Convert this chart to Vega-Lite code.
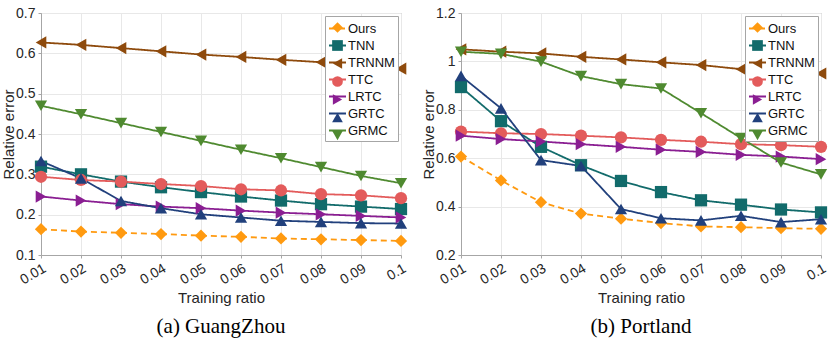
{
  "$schema": "https://vega.github.io/schema/vega-lite/v6.json",
  "padding": {"left": 0, "top": 5, "right": 0, "bottom": 0},
  "background": "white",
  "spacing": 60,
  "bounds": "flush",
  "config": {
    "font": "Liberation Sans",
    "view": {"stroke": "#a6a6a6", "strokeWidth": 1},
    "axis": {
      "labelFont": "Liberation Sans",
      "labelFontSize": 14,
      "labelColor": "#262626",
      "titleFont": "Liberation Sans",
      "titleFontSize": 15,
      "titleFontWeight": "normal",
      "titleColor": "#262626",
      "gridColor": "#e8e8e8",
      "domainColor": "#a6a6a6",
      "tickColor": "#a6a6a6",
      "tickSize": 3,
      "labelPadding": 3
    },
    "legend": {
      "labelFont": "Liberation Sans",
      "labelFontSize": 13,
      "labelColor": "#111111",
      "labelOffset": 2,
      "title": null,
      "symbolBaseFillColor": {"expr": "{'Ours':'#ff9a10','TNN':'#126b6b','TRNNM':'#8e4a0c','TTC':'#e35b5b','LRTC':'#8a1e92','GRTC':'#21407c','GRMC':'#4f8a30'}[datum.value]"}
    },
    "title": {"font": "Liberation Serif", "fontSize": 21, "fontWeight": "normal", "color": "#000000"}
  },
  "datasets": {
    "gz": [
      {"method": "Ours", "ratio": 0.01, "value": 0.164}, {"method": "Ours", "ratio": 0.02, "value": 0.158}, {"method": "Ours", "ratio": 0.03, "value": 0.155}, {"method": "Ours", "ratio": 0.04, "value": 0.152}, {"method": "Ours", "ratio": 0.05, "value": 0.148}, {"method": "Ours", "ratio": 0.06, "value": 0.145}, {"method": "Ours", "ratio": 0.07, "value": 0.141}, {"method": "Ours", "ratio": 0.08, "value": 0.139}, {"method": "Ours", "ratio": 0.09, "value": 0.137}, {"method": "Ours", "ratio": 0.1, "value": 0.135},
      {"method": "TNN", "ratio": 0.01, "value": 0.319}, {"method": "TNN", "ratio": 0.02, "value": 0.300}, {"method": "TNN", "ratio": 0.03, "value": 0.282}, {"method": "TNN", "ratio": 0.04, "value": 0.268}, {"method": "TNN", "ratio": 0.05, "value": 0.256}, {"method": "TNN", "ratio": 0.06, "value": 0.245}, {"method": "TNN", "ratio": 0.07, "value": 0.235}, {"method": "TNN", "ratio": 0.08, "value": 0.226}, {"method": "TNN", "ratio": 0.09, "value": 0.220}, {"method": "TNN", "ratio": 0.1, "value": 0.214},
      {"method": "TRNNM", "ratio": 0.01, "value": 0.627}, {"method": "TRNNM", "ratio": 0.02, "value": 0.621}, {"method": "TRNNM", "ratio": 0.03, "value": 0.613}, {"method": "TRNNM", "ratio": 0.04, "value": 0.605}, {"method": "TRNNM", "ratio": 0.05, "value": 0.597}, {"method": "TRNNM", "ratio": 0.06, "value": 0.591}, {"method": "TRNNM", "ratio": 0.07, "value": 0.584}, {"method": "TRNNM", "ratio": 0.08, "value": 0.578}, {"method": "TRNNM", "ratio": 0.09, "value": 0.571}, {"method": "TRNNM", "ratio": 0.1, "value": 0.562},
      {"method": "TTC", "ratio": 0.01, "value": 0.294}, {"method": "TTC", "ratio": 0.02, "value": 0.286}, {"method": "TTC", "ratio": 0.03, "value": 0.282}, {"method": "TTC", "ratio": 0.04, "value": 0.276}, {"method": "TTC", "ratio": 0.05, "value": 0.271}, {"method": "TTC", "ratio": 0.06, "value": 0.263}, {"method": "TTC", "ratio": 0.07, "value": 0.260}, {"method": "TTC", "ratio": 0.08, "value": 0.251}, {"method": "TTC", "ratio": 0.09, "value": 0.248}, {"method": "TTC", "ratio": 0.1, "value": 0.241},
      {"method": "LRTC", "ratio": 0.01, "value": 0.245}, {"method": "LRTC", "ratio": 0.02, "value": 0.235}, {"method": "LRTC", "ratio": 0.03, "value": 0.226}, {"method": "LRTC", "ratio": 0.04, "value": 0.220}, {"method": "LRTC", "ratio": 0.05, "value": 0.216}, {"method": "LRTC", "ratio": 0.06, "value": 0.210}, {"method": "LRTC", "ratio": 0.07, "value": 0.205}, {"method": "LRTC", "ratio": 0.08, "value": 0.201}, {"method": "LRTC", "ratio": 0.09, "value": 0.197}, {"method": "LRTC", "ratio": 0.1, "value": 0.193},
      {"method": "GRTC", "ratio": 0.01, "value": 0.333}, {"method": "GRTC", "ratio": 0.02, "value": 0.290}, {"method": "GRTC", "ratio": 0.03, "value": 0.234}, {"method": "GRTC", "ratio": 0.04, "value": 0.216}, {"method": "GRTC", "ratio": 0.05, "value": 0.201}, {"method": "GRTC", "ratio": 0.06, "value": 0.193}, {"method": "GRTC", "ratio": 0.07, "value": 0.185}, {"method": "GRTC", "ratio": 0.08, "value": 0.182}, {"method": "GRTC", "ratio": 0.09, "value": 0.179}, {"method": "GRTC", "ratio": 0.1, "value": 0.178},
      {"method": "GRMC", "ratio": 0.01, "value": 0.470}, {"method": "GRMC", "ratio": 0.02, "value": 0.449}, {"method": "GRMC", "ratio": 0.03, "value": 0.427}, {"method": "GRMC", "ratio": 0.04, "value": 0.405}, {"method": "GRMC", "ratio": 0.05, "value": 0.383}, {"method": "GRMC", "ratio": 0.06, "value": 0.361}, {"method": "GRMC", "ratio": 0.07, "value": 0.340}, {"method": "GRMC", "ratio": 0.08, "value": 0.318}, {"method": "GRMC", "ratio": 0.09, "value": 0.296}, {"method": "GRMC", "ratio": 0.1, "value": 0.278}
    ],
    "pl": [
      {"method": "Ours", "ratio": 0.01, "value": 0.607}, {"method": "Ours", "ratio": 0.02, "value": 0.508}, {"method": "Ours", "ratio": 0.03, "value": 0.418}, {"method": "Ours", "ratio": 0.04, "value": 0.371}, {"method": "Ours", "ratio": 0.05, "value": 0.350}, {"method": "Ours", "ratio": 0.06, "value": 0.332}, {"method": "Ours", "ratio": 0.07, "value": 0.318}, {"method": "Ours", "ratio": 0.08, "value": 0.315}, {"method": "Ours", "ratio": 0.09, "value": 0.311}, {"method": "Ours", "ratio": 0.1, "value": 0.308},
      {"method": "TNN", "ratio": 0.01, "value": 0.894}, {"method": "TNN", "ratio": 0.02, "value": 0.753}, {"method": "TNN", "ratio": 0.03, "value": 0.647}, {"method": "TNN", "ratio": 0.04, "value": 0.571}, {"method": "TNN", "ratio": 0.05, "value": 0.506}, {"method": "TNN", "ratio": 0.06, "value": 0.460}, {"method": "TNN", "ratio": 0.07, "value": 0.426}, {"method": "TNN", "ratio": 0.08, "value": 0.408}, {"method": "TNN", "ratio": 0.09, "value": 0.388}, {"method": "TNN", "ratio": 0.1, "value": 0.376},
      {"method": "TRNNM", "ratio": 0.01, "value": 1.050}, {"method": "TRNNM", "ratio": 0.02, "value": 1.040}, {"method": "TRNNM", "ratio": 0.03, "value": 1.033}, {"method": "TRNNM", "ratio": 0.04, "value": 1.019}, {"method": "TRNNM", "ratio": 0.05, "value": 1.008}, {"method": "TRNNM", "ratio": 0.06, "value": 0.996}, {"method": "TRNNM", "ratio": 0.07, "value": 0.985}, {"method": "TRNNM", "ratio": 0.08, "value": 0.968}, {"method": "TRNNM", "ratio": 0.09, "value": 0.959}, {"method": "TRNNM", "ratio": 0.1, "value": 0.950},
      {"method": "TTC", "ratio": 0.01, "value": 0.710}, {"method": "TTC", "ratio": 0.02, "value": 0.703}, {"method": "TTC", "ratio": 0.03, "value": 0.700}, {"method": "TTC", "ratio": 0.04, "value": 0.693}, {"method": "TTC", "ratio": 0.05, "value": 0.686}, {"method": "TTC", "ratio": 0.06, "value": 0.676}, {"method": "TTC", "ratio": 0.07, "value": 0.668}, {"method": "TTC", "ratio": 0.08, "value": 0.658}, {"method": "TTC", "ratio": 0.09, "value": 0.654}, {"method": "TTC", "ratio": 0.1, "value": 0.647},
      {"method": "LRTC", "ratio": 0.01, "value": 0.693}, {"method": "LRTC", "ratio": 0.02, "value": 0.679}, {"method": "LRTC", "ratio": 0.03, "value": 0.669}, {"method": "LRTC", "ratio": 0.04, "value": 0.658}, {"method": "LRTC", "ratio": 0.05, "value": 0.647}, {"method": "LRTC", "ratio": 0.06, "value": 0.635}, {"method": "LRTC", "ratio": 0.07, "value": 0.626}, {"method": "LRTC", "ratio": 0.08, "value": 0.614}, {"method": "LRTC", "ratio": 0.09, "value": 0.607}, {"method": "LRTC", "ratio": 0.1, "value": 0.596},
      {"method": "GRTC", "ratio": 0.01, "value": 0.940}, {"method": "GRTC", "ratio": 0.02, "value": 0.806}, {"method": "GRTC", "ratio": 0.03, "value": 0.592}, {"method": "GRTC", "ratio": 0.04, "value": 0.568}, {"method": "GRTC", "ratio": 0.05, "value": 0.390}, {"method": "GRTC", "ratio": 0.06, "value": 0.352}, {"method": "GRTC", "ratio": 0.07, "value": 0.343}, {"method": "GRTC", "ratio": 0.08, "value": 0.362}, {"method": "GRTC", "ratio": 0.09, "value": 0.336}, {"method": "GRTC", "ratio": 0.1, "value": 0.348},
      {"method": "GRMC", "ratio": 0.01, "value": 1.040}, {"method": "GRMC", "ratio": 0.02, "value": 1.031}, {"method": "GRMC", "ratio": 0.03, "value": 0.999}, {"method": "GRMC", "ratio": 0.04, "value": 0.939}, {"method": "GRMC", "ratio": 0.05, "value": 0.906}, {"method": "GRMC", "ratio": 0.06, "value": 0.888}, {"method": "GRMC", "ratio": 0.07, "value": 0.786}, {"method": "GRMC", "ratio": 0.08, "value": 0.683}, {"method": "GRMC", "ratio": 0.09, "value": 0.582}, {"method": "GRMC", "ratio": 0.1, "value": 0.533}
    ]
  },
  "hconcat": [
    {
      "width": 360,
      "height": 242,
      "data": {"name": "gz"},
      "title": {"text": "(a) GuangZhou", "orient": "bottom", "anchor": "middle", "offset": 10},
      "encoding": {
        "x": {"field": "ratio", "type": "quantitative", "scale": {"domain": [0.01, 0.1], "nice": false, "zero": false},
              "axis": {"values": [0.01, 0.02, 0.03, 0.04, 0.05, 0.06, 0.07, 0.08, 0.09, 0.1], "format": "~g", "labelAngle": -30, "title": "Training ratio", "titlePadding": 4}},
        "y": {"field": "value", "type": "quantitative", "scale": {"domain": [0.1, 0.7], "nice": false, "zero": false},
              "axis": {"values": [0.1, 0.2, 0.3, 0.4, 0.5, 0.6, 0.7], "format": "~g", "title": "Relative error", "titlePadding": 3, "minExtent": 22, "maxExtent": 22}},
        "color": {"field": "method", "type": "nominal",
                  "scale": {"domain": ["Ours", "TNN", "TRNNM", "TTC", "LRTC", "GRTC", "GRMC"], "range": ["#ff9a10", "#126b6b", "#8e4a0c", "#e35b5b", "#8a1e92", "#21407c", "#4f8a30"]},
                  "legend": {"orient": "top-right", "offset": 3, "padding": 3, "symbolType": "stroke", "symbolSize": 289, "symbolStrokeWidth": 1.8, "rowPadding": 0, "fillColor": "white", "strokeColor": "#a6a6a6", "labelOffset": 1}}
      },
      "layer": [
        {"mark": {"type": "line", "strokeWidth": 1.8},
         "encoding": {"strokeDash": {"field": "method", "type": "nominal", "scale": {"domain": ["Ours", "TNN", "TRNNM", "TTC", "LRTC", "GRTC", "GRMC"], "range": [[6, 4], [1, 0], [1, 0], [1, 0], [1, 0], [1, 0], [1, 0]]}, "legend": null}}},
        {"mark": {"type": "point", "filled": true, "size": 150, "opacity": 1},
         "encoding": {"shape": {"field": "method", "type": "nominal", "scale": {"domain": ["Ours", "TNN", "TRNNM", "TTC", "LRTC", "GRTC", "GRMC"], "range": ["diamond", "square", "triangle-left", "circle", "triangle-right", "triangle-up", "triangle-down"]},
           "legend": {"orient": "none", "legendX": 287, "legendY": 5, "padding": 3, "symbolSize": 115, "rowPadding": 4, "labelExpr": "''", "symbolStrokeWidth": 0}}}}
      ]
    },
    {
      "width": 360,
      "height": 242,
      "data": {"name": "pl"},
      "title": {"text": "(b) Portland", "orient": "bottom", "anchor": "middle", "offset": 10},
      "encoding": {
        "x": {"field": "ratio", "type": "quantitative", "scale": {"domain": [0.01, 0.1], "nice": false, "zero": false},
              "axis": {"values": [0.01, 0.02, 0.03, 0.04, 0.05, 0.06, 0.07, 0.08, 0.09, 0.1], "format": "~g", "labelAngle": -30, "title": "Training ratio", "titlePadding": 4}},
        "y": {"field": "value", "type": "quantitative", "scale": {"domain": [0.2, 1.2], "nice": false, "zero": false},
              "axis": {"values": [0.2, 0.4, 0.6, 0.8, 1, 1.2], "format": "~g", "title": "Relative error", "titlePadding": 3, "minExtent": 22, "maxExtent": 22}},
        "color": {"field": "method", "type": "nominal",
                  "scale": {"domain": ["Ours", "TNN", "TRNNM", "TTC", "LRTC", "GRTC", "GRMC"], "range": ["#ff9a10", "#126b6b", "#8e4a0c", "#e35b5b", "#8a1e92", "#21407c", "#4f8a30"]},
                  "legend": {"orient": "top-right", "offset": 3, "padding": 3, "symbolType": "stroke", "symbolSize": 289, "symbolStrokeWidth": 1.8, "rowPadding": 0, "fillColor": "white", "strokeColor": "#a6a6a6", "labelOffset": 1}}
      },
      "layer": [
        {"mark": {"type": "line", "strokeWidth": 1.8},
         "encoding": {"strokeDash": {"field": "method", "type": "nominal", "scale": {"domain": ["Ours", "TNN", "TRNNM", "TTC", "LRTC", "GRTC", "GRMC"], "range": [[6, 4], [1, 0], [1, 0], [1, 0], [1, 0], [1, 0], [1, 0]]}, "legend": null}}},
        {"mark": {"type": "point", "filled": true, "size": 150, "opacity": 1},
         "encoding": {"shape": {"field": "method", "type": "nominal", "scale": {"domain": ["Ours", "TNN", "TRNNM", "TTC", "LRTC", "GRTC", "GRMC"], "range": ["diamond", "square", "triangle-left", "circle", "triangle-right", "triangle-up", "triangle-down"]},
           "legend": {"orient": "none", "legendX": 287, "legendY": 5, "padding": 3, "symbolSize": 115, "rowPadding": 4, "labelExpr": "''", "symbolStrokeWidth": 0}}}}
      ]
    }
  ],
  "resolve": {"scale": {"color": "independent", "shape": "independent", "strokeDash": "independent"}, "legend": {"color": "independent", "shape": "independent"}}
}
